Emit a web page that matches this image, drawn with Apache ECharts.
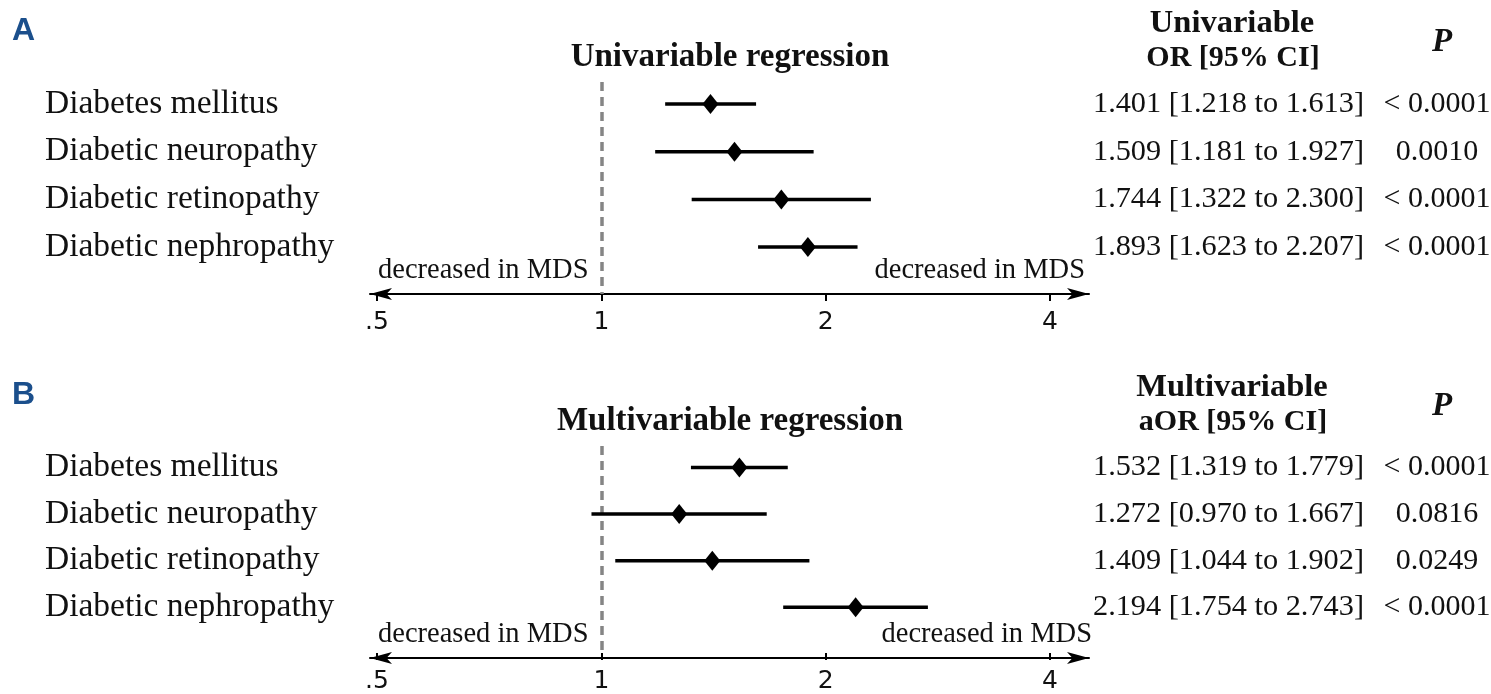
<!DOCTYPE html>
<html><head><meta charset="utf-8">
<script src="https://cdn.jsdelivr.net/npm/echarts@6/dist/echarts.min.js"></script>
<style>html,body{margin:0;padding:0;background:#fff}#c{width:1491px;height:694px}</style>
</head><body><div id="c"></div>
<script>
// ---- data ----
const categories = ['Diabetes mellitus', 'Diabetic neuropathy', 'Diabetic retinopathy', 'Diabetic nephropathy'];
const uniOR = [1.401, 1.509, 1.744, 1.893];
const uniLo = [1.218, 1.181, 1.322, 1.623];
const uniHi = [1.613, 1.927, 2.300, 2.207];
const uniP = ['< 0.0001', '0.0010', '< 0.0001', '< 0.0001'];
const multiOR = [1.532, 1.272, 1.409, 2.194];
const multiLo = [1.319, 0.970, 1.044, 1.754];
const multiHi = [1.779, 1.667, 1.902, 2.743];
const multiP = ['< 0.0001', '0.0816', '0.0249', '< 0.0001'];
const tickValues = [0.5, 1, 2, 4];
const tickLabels = ['.5', '1', '2', '4'];

// ---- layout ----
const SERIF = '"Liberation Serif", "DejaVu Serif", serif';
const SANS = '"DejaVu Sans", sans-serif';
const panels = [
  { top: 82, or: uniOR, lo: uniLo, hi: uniHi, p: uniP, title: 'Univariable regression',
    head1: 'Univariable', head2: 'OR [95% CI]', letter: 'A', rightDecEnd: 1085 },
  { top: 446, or: multiOR, lo: multiLo, hi: multiHi, p: multiP, title: 'Multivariable regression',
    head1: 'Multivariable', head2: 'aOR [95% CI]', letter: 'B', rightDecEnd: 1092 }
];
const GH = 212, YMIN = -0.461, YMAX = 3.983;

const grid = [], xAxis = [], yAxis = [], series = [], graphic = [];
panels.forEach((pn, k) => {
  const gData = grid.length;
  grid.push({ left: 377, width: 673, top: pn.top, height: GH });
  grid.push({ left: 370, width: 719, top: pn.top, height: GH });
  xAxis.push({
    gridIndex: gData, type: 'log', logBase: 2, min: tickValues[0], max: tickValues[tickValues.length - 1],
    axisLine: { show: false, onZero: false },
    axisTick: { show: true, length: 7, lineStyle: { color: '#000', width: 2 } },
    axisLabel: { show: true, margin: 16, fontFamily: SANS, fontSize: 25, color: '#111',
      formatter: v => { const i = tickValues.findIndex(t => Math.abs(t - v) < 1e-9); return i >= 0 ? tickLabels[i] : ''; } },
    splitLine: { show: false }
  });
  xAxis.push({
    gridIndex: gData + 1, type: 'value', min: 0, max: 1,
    axisLine: { show: true, onZero: false, symbol: ['arrow', 'arrow'], symbolSize: [9, 22], lineStyle: { color: '#000', width: 2 } },
    axisTick: { show: false }, axisLabel: { show: false }, splitLine: { show: false }
  });
  yAxis.push({ gridIndex: gData, type: 'value', inverse: true, min: YMIN, max: YMAX, show: false });
  yAxis.push({ gridIndex: gData + 1, type: 'value', min: 0, max: 1, show: false });

  const xi = gData, yi = gData;
  // error bars
  series.push({
    type: 'custom', xAxisIndex: xi, yAxisIndex: yi, clip: false, z: 3,
    data: categories.map((c, i) => [pn.lo[i], pn.hi[i], i]),
    encode: { x: [0, 1], y: 2 },
    renderItem: (params, api) => {
      const a = api.coord([api.value(0), api.value(2)]);
      const b = api.coord([api.value(1), api.value(2)]);
      return { type: 'line', shape: { x1: a[0], y1: a[1], x2: b[0], y2: b[1] },
        style: { stroke: '#000', lineWidth: 3.5 } };
    }
  });
  // point estimates
  series.push({
    type: 'scatter', xAxisIndex: xi, yAxisIndex: yi, z: 4,
    symbol: 'diamond', symbolSize: [16, 20], itemStyle: { color: '#000', opacity: 1 },
    data: pn.or.map((v, i) => [v, i]),
    markLine: {
      silent: true, symbol: 'none', label: { show: false }, z: 1,
      lineStyle: { color: '#858585', width: 3.5, type: [9, 6] },
      data: [{ xAxis: 1 }]
    }
  });
  // row texts
  series.push({
    type: 'custom', xAxisIndex: xi, yAxisIndex: yi, clip: false, silent: true,
    data: categories.map((c, i) => [1, i]),
    encode: { x: 0, y: 1 },
    renderItem: (params, api) => {
      const i = params.dataIndex;
      const y = api.coord([1, api.value(1)])[1];
      const orTxt = pn.or[i].toFixed(3) + ' [' + pn.lo[i].toFixed(3) + ' to ' + pn.hi[i].toFixed(3) + ']';
      return { type: 'group', children: [
        { type: 'text', x: 45, y: y, style: { text: categories[i], fontFamily: SERIF, fontSize: 33.5, fill: '#111', align: 'left', verticalAlign: 'middle' } },
        { type: 'text', x: 1093, y: y, style: { text: orTxt, fontFamily: SERIF, fontSize: 30.3, fill: '#111', align: 'left', verticalAlign: 'middle' } },
        { type: 'text', x: 1437, y: y, style: { text: pn.p[i], fontFamily: SERIF, fontSize: 30, fill: '#111', align: 'center', verticalAlign: 'middle' } }
      ] };
    }
  });

  const off = pn.top - 82;
  const t = (txt, x, y, opts) => graphic.push({ type: 'text', x: x, y: y + off,
    style: Object.assign({ text: txt, fill: '#111', align: 'center', verticalAlign: 'middle' }, opts) });
  t(pn.letter, 12, 31, { fontFamily: '"Liberation Sans", Arial, sans-serif', fontWeight: 'bold', fontSize: 32, fill: '#1b4f8c', align: 'left' });
  t(pn.title, 730, 57, { fontFamily: SERIF, fontWeight: 'bold', fontSize: 33 });
  t(pn.head1, 1232, 24, { fontFamily: SERIF, fontWeight: 'bold', fontSize: 32.5 });
  t(pn.head2, 1233, 58, { fontFamily: SERIF, fontWeight: 'bold', fontSize: 30 });
  t('P', 1442, 42, { fontFamily: SERIF, fontWeight: 'bold', fontStyle: 'italic', fontSize: 33 });
  t('decreased in MDS', 378, 271, { fontFamily: SERIF, fontSize: 28.5, align: 'left' });
  t('decreased in MDS', pn.rightDecEnd, 271, { fontFamily: SERIF, fontSize: 28.5, align: 'right' });
});

const chart = echarts.init(document.getElementById('c'), null, { renderer: 'canvas' });
chart.setOption({
  animation: false,
  backgroundColor: '#fff',
  grid: grid, xAxis: xAxis, yAxis: yAxis, series: series, graphic: graphic
});
</script></body></html>
